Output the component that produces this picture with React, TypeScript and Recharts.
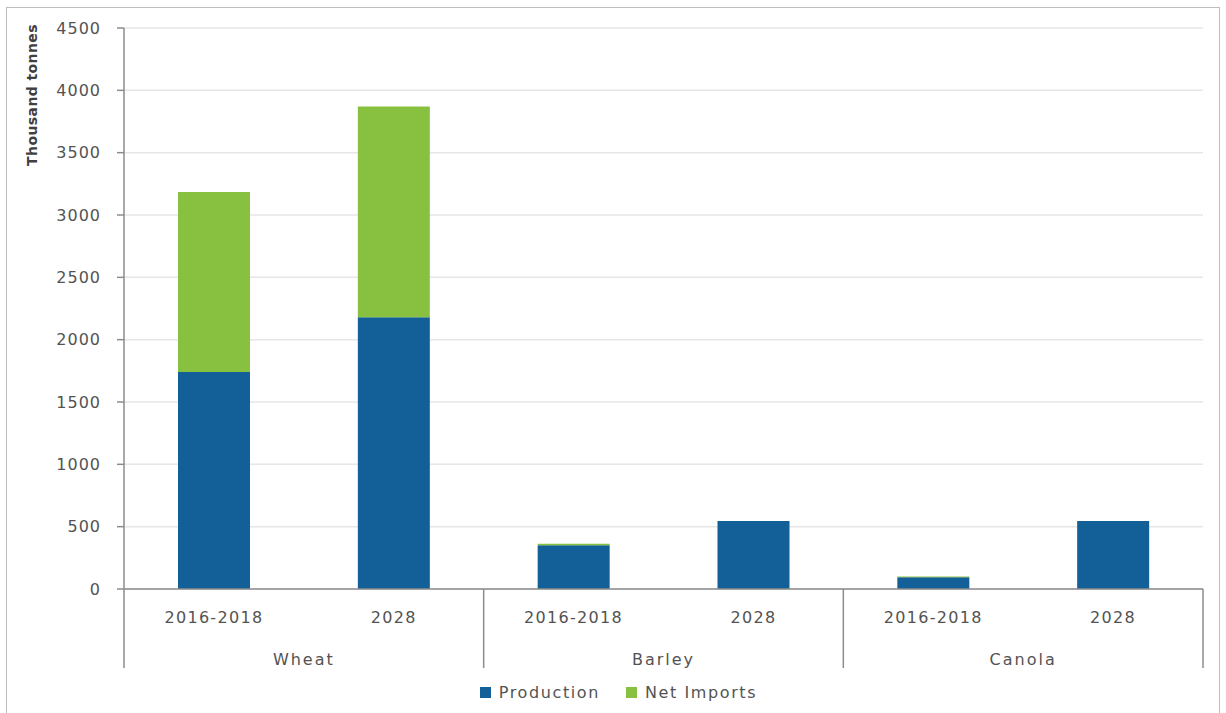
import React from "react";
import { BarChart, Bar, XAxis, YAxis, CartesianGrid, Legend } from "recharts";

// values in thousand tonnes
const crops = ["Wheat", "Wheat", "Barley", "Barley", "Canola", "Canola"];
const periods = ["2016-2018", "2028", "2016-2018", "2028", "2016-2018", "2028"];
const production = [1740, 2180, 350, 545, 95, 545];
const netImports = [1445, 1690, 12, 0, 5, 0];
const yTicks = [0, 500, 1000, 1500, 2000, 2500, 3000, 3500, 4000, 4500];

const data = periods.map((p, i) => ({
  key: i,
  period: p,
  crop: crops[i],
  production: production[i],
  netImports: netImports[i],
}));

const W = 1226;
const H = 713;
const margin = { top: 28, right: 23, left: 34, bottom: 0 };
const yAxisW = 90;
const plotW = W - margin.left - yAxisW - margin.right;
const band = plotW / data.length;

const BLUE = "#135f97";
const GREEN = "#88c13f";
const TEXT = "#535353";
const AXIS = "#8c8c8c";
const FONT = "'DejaVu Sans', 'Noto Sans', sans-serif";

function CropTick(props: any) {
  const { x, y, payload } = props;
  const i = payload.index;
  const row = data[i];
  const first = i === 0 || data[i - 1].crop !== row.crop;
  const last = i === data.length - 1;
  const txt = { fill: TEXT, fontSize: 16, fontFamily: FONT, letterSpacing: 1.3 };
  return (
    <g>
      <text x={x} y={y + 34} textAnchor="middle" {...txt}>
        {row.period}
      </text>
      {first && (
        <>
          <line x1={x - band / 2} y1={y} x2={x - band / 2} y2={y + 79} stroke={AXIS} strokeWidth={1.5} />
          <text x={x + band / 2} y={y + 76} textAnchor="middle" {...txt} letterSpacing={2}>
            {row.crop}
          </text>
        </>
      )}
      {last && <line x1={x + band / 2} y1={y} x2={x + band / 2} y2={y + 79} stroke={AXIS} strokeWidth={1.5} />}
    </g>
  );
}

function YTitle() {
  return (
    <text
      x={32}
      y={95}
      transform="rotate(-90 32 95)"
      textAnchor="middle"
      dominantBaseline="central"
      fill="#404040"
      fontSize={14}
      fontWeight="bold"
      fontFamily={FONT}
      letterSpacing={0.4}
    >
      Thousand tonnes
    </text>
  );
}

function LegendBox() {
  const items = [
    { name: "Production", color: BLUE },
    { name: "Net Imports", color: GREEN },
  ];
  return (
    <div
      style={{
        height: 44,
        boxSizing: "border-box",
        display: "flex",
        justifyContent: "center",
        alignItems: "center",
        gap: 26,
        paddingTop: 2,
      }}
    >
      {items.map((it) => (
        <div key={it.name} style={{ display: "flex", alignItems: "center", gap: 8 }}>
          <span style={{ width: 11, height: 11, background: it.color, display: "inline-block" }} />
          <span style={{ fontFamily: FONT, fontSize: 16, color: TEXT, letterSpacing: 1.6 }}>{it.name}</span>
        </div>
      ))}
    </div>
  );
}

export default function App() {
  return (
    <div style={{ position: "absolute", left: 0, top: 0, width: W, height: H, background: "#fff", overflow: "hidden" }}>
      <div
        style={{
          position: "absolute",
          left: 6,
          top: 7,
          width: 1214,
          height: 720,
          border: "1px solid #bdbdbd",
          boxSizing: "border-box",
        }}
      />
      <div style={{ position: "absolute", left: 0, top: 0 }}>
        <BarChart width={W} height={H} data={data} margin={margin} barSize={72}>
          <CartesianGrid vertical={false} stroke="#e6e6e6" strokeWidth={1.5} />
          <XAxis
            dataKey="key"
            height={80}
            tickLine={false}
            tickSize={0}
            tickMargin={0}
            axisLine={{ stroke: AXIS, strokeWidth: 1.5 }}
            tick={<CropTick />}
            interval={0}
          />
          <YAxis
            width={yAxisW}
            domain={[0, 4500]}
            ticks={yTicks}
            interval={0}
            tickSize={7}
            tickMargin={16}
            axisLine={{ stroke: AXIS, strokeWidth: 1.5 }}
            tickLine={{ stroke: AXIS, strokeWidth: 1.5 }}
            tick={{ fill: TEXT, fontSize: 16, fontFamily: FONT, letterSpacing: 1 }}
            label={<YTitle />}
          />
          <Legend verticalAlign="bottom" content={<LegendBox />} />
          <Bar dataKey="production" name="Production" stackId="a" fill={BLUE} isAnimationActive={false} />
          <Bar dataKey="netImports" name="Net Imports" stackId="a" fill={GREEN} isAnimationActive={false} />
        </BarChart>
      </div>
    </div>
  );
}
